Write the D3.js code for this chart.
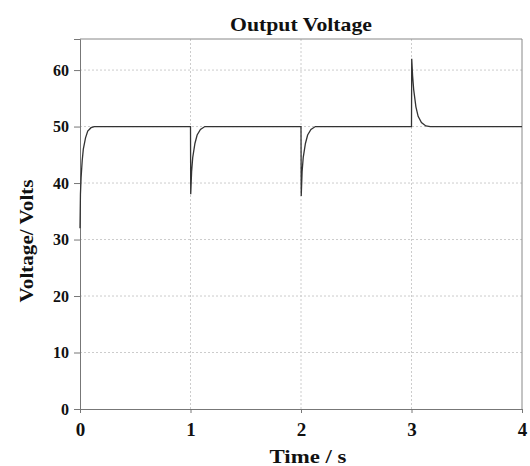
<!DOCTYPE html>
<html><head><meta charset="utf-8">
<script src="https://cdn.jsdelivr.net/npm/d3@7"></script>
<style>body{margin:0;background:#fff}svg{display:block}</style>
</head><body>
<svg id="c" width="530" height="466"></svg>
<script>
const timeValues = [0,0.004,0.01,0.02,0.03,0.05,0.07,0.1,0.13,1.0,1.002,1.01,1.02,1.04,1.06,1.09,1.13,2.0,2.002,2.01,2.02,2.04,2.06,2.09,2.13,3.0,3.002,3.01,3.02,3.04,3.06,3.09,3.13,3.17,4.0];
const voltageValues = [32,38,41,44,46,48,49.2,49.8,50,50,38,42,44.5,47,48.5,49.5,50,50,37.7,42,44.5,47,48.5,49.5,50,50,62,59,56.5,53.5,51.8,50.7,50.1,50,50];
const xTicks = [0,1,2,3,4];
const yTicks = [0,10,20,30,40,50,60];
const title = "Output Voltage";
const xLabel = "Time / s";
const yLabel = "Voltage/ Volts";

const svg = d3.select("#c");
const L=80,R=522,T=39,B=409;
const x = d3.scaleLinear().domain([0,4]).range([L,R]);
const y = d3.scaleLinear().domain([0,65.5]).range([B,T]);
const font = "'Liberation Serif','Times New Roman',serif";

// grid
svg.append("g").selectAll("line").data(yTicks.filter(d=>d>0)).join("line")
  .attr("x1",L).attr("x2",R).attr("y1",d=>y(d)).attr("y2",d=>y(d))
  .attr("stroke","#ccc").attr("stroke-width",1).attr("stroke-dasharray","2,2");
svg.append("g").selectAll("line").data(xTicks.filter(d=>d>0&&d<4)).join("line")
  .attr("y1",T).attr("y2",B).attr("x1",d=>x(d)).attr("x2",d=>x(d))
  .attr("stroke","#ccc").attr("stroke-width",1).attr("stroke-dasharray","2,2");

// frame top/right
svg.append("line").attr("x1",L).attr("x2",R).attr("y1",T).attr("y2",T).attr("stroke","#888");
svg.append("line").attr("x1",R).attr("x2",R).attr("y1",T).attr("y2",B).attr("stroke","#888");

const xa = svg.append("g").attr("transform",`translate(0,${B})`)
  .call(d3.axisBottom(x).tickValues(xTicks).tickFormat(d3.format("d")).tickSizeOuter(0).tickSize(4).tickPadding(10));
const ya = svg.append("g").attr("transform",`translate(${L},0)`)
  .call(d3.axisLeft(y).tickValues(yTicks).tickFormat(d3.format("d")).tickSizeOuter(0).tickSize(6).tickPadding(5));
[xa,ya].forEach(a=>{
  a.select(".domain").attr("stroke","#777");
  a.selectAll(".tick line").attr("stroke","#777");
  a.selectAll("text").attr("font-family",font).attr("font-weight","bold").attr("fill","#111");
});
xa.selectAll("text").attr("font-size",19);
ya.selectAll("text").attr("font-size",16);

const line = d3.line().x((d,i)=>x(timeValues[i])).y(d=>y(d));
svg.append("path").datum(voltageValues).attr("d",line)
  .attr("fill","none").attr("stroke","#333").attr("stroke-width",1.3);

svg.append("text").attr("x",301).attr("y",31).attr("text-anchor","middle")
  .attr("font-family",font).attr("font-weight","bold").attr("font-size",19)
  .attr("textLength",142).attr("lengthAdjust","spacingAndGlyphs").attr("fill","#111").text(title);
svg.append("text").attr("x",308).attr("y",463).attr("text-anchor","middle")
  .attr("font-family",font).attr("font-weight","bold").attr("font-size",19)
  .attr("textLength",77).attr("lengthAdjust","spacingAndGlyphs").attr("fill","#111").text(xLabel);
svg.append("text").attr("transform","translate(33,241) rotate(-90)").attr("text-anchor","middle")
  .attr("font-family",font).attr("font-weight","bold").attr("font-size",18)
  .attr("textLength",123).attr("lengthAdjust","spacingAndGlyphs").attr("fill","#111").text(yLabel);
</script>
</body></html>
